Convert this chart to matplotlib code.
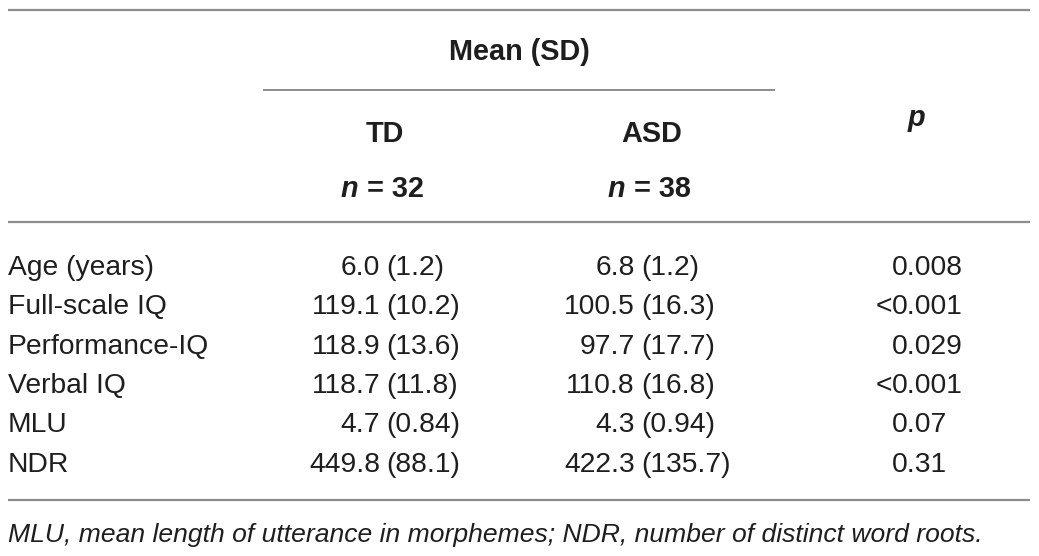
import matplotlib
matplotlib.use('Agg')
import matplotlib.pyplot as plt

# table content
row_labels = ['Age (years)', 'Full-scale IQ', 'Performance-IQ', 'Verbal IQ', 'MLU', 'NDR']
td_mean = ['6.0', '119.1', '118.9', '118.7', '4.7', '449.8']
td_sd = ['1.2', '10.2', '13.6', '11.8', '0.84', '88.1']
asd_mean = ['6.8', '100.5', '97.7', '110.8', '4.3', '422.3']
asd_sd = ['1.2', '16.3', '17.7', '16.8', '0.94', '135.7']
p_values = ['0.008', '<0.001', '0.029', '<0.001', '0.07', '0.31']
group_names = ['TD', 'ASD']
group_n = ['32', '38']
header_span = 'Mean (SD)'
footnote = 'MLU, mean length of utterance in morphemes; NDR, number of distinct word roots.'

W, H = 1039, 556
fig = plt.figure(figsize=(W / 100, H / 100), dpi=100)
ax = fig.add_axes([0, 0, 1, 1])
ax.set_xlim(0, W)
ax.set_ylim(H, 0)
ax.axis('off')

plt.rcParams['font.family'] = ['Liberation Sans', 'DejaVu Sans']
fs = 20.3       # body
fs_head = 20.8  # bold headers
fs_note = 19.05  # footnote
txt_col = '#1e1e1e'
line_col = '#8c8c8c'

# rules
ax.hlines(10, 8, 1030, color=line_col, lw=1.6)
ax.hlines(90, 263, 775, color=line_col, lw=1.4)
ax.hlines(222, 8, 1030, color=line_col, lw=1.6)
ax.hlines(500, 8, 1030, color=line_col, lw=1.6)

# header
ax.text(519, 60, header_span, ha='center', va='baseline', fontsize=fs_head, fontweight='bold', color=txt_col)
group_x = [385, 652]
for gx, name, n in zip(group_x, group_names, group_n):
    ax.text(gx, 142, name, ha='center', va='baseline', fontsize=fs_head, fontweight='bold', color=txt_col)
    # italic "n" and upright "= xx"
    ax.text(gx - 27, 197, 'n', ha='right', va='baseline', fontsize=fs_head, fontweight='bold',
            style='italic', color=txt_col)
    ax.text(gx - 18, 197, '= ' + n, ha='left', va='baseline', fontsize=fs_head, fontweight='bold',
            color=txt_col)
ax.text(916, 126, 'p', ha='center', va='baseline', fontsize=fs_head, fontweight='bold', style='italic',
        color=txt_col)

# body rows
row_y0 = 275
row_step = 39.3
td_split = 380
asd_split = 635
p_x = 892
for i, lab in enumerate(row_labels):
    y = row_y0 + i * row_step
    ax.text(8, y, lab, ha='left', va='baseline', fontsize=fs, color=txt_col)
    ax.text(td_split, y, td_mean[i], ha='right', va='baseline', fontsize=fs, color=txt_col)
    ax.text(td_split + 6, y, '(' + td_sd[i] + ')', ha='left', va='baseline', fontsize=fs, color=txt_col)
    ax.text(asd_split, y, asd_mean[i], ha='right', va='baseline', fontsize=fs, color=txt_col)
    ax.text(asd_split + 6, y, '(' + asd_sd[i] + ')', ha='left', va='baseline', fontsize=fs, color=txt_col)
    pv = p_values[i]
    if pv.startswith('<'):
        ax.text(p_x, y, '<', ha='right', va='baseline', fontsize=fs, color=txt_col)
        pv = pv[1:]
    ax.text(p_x, y, pv, ha='left', va='baseline', fontsize=fs, color=txt_col)

# footnote
ax.text(8, 542, footnote, ha='left', va='baseline', fontsize=fs_note, style='italic', color=txt_col)

fig.savefig('out.png', dpi=100, facecolor='white')
